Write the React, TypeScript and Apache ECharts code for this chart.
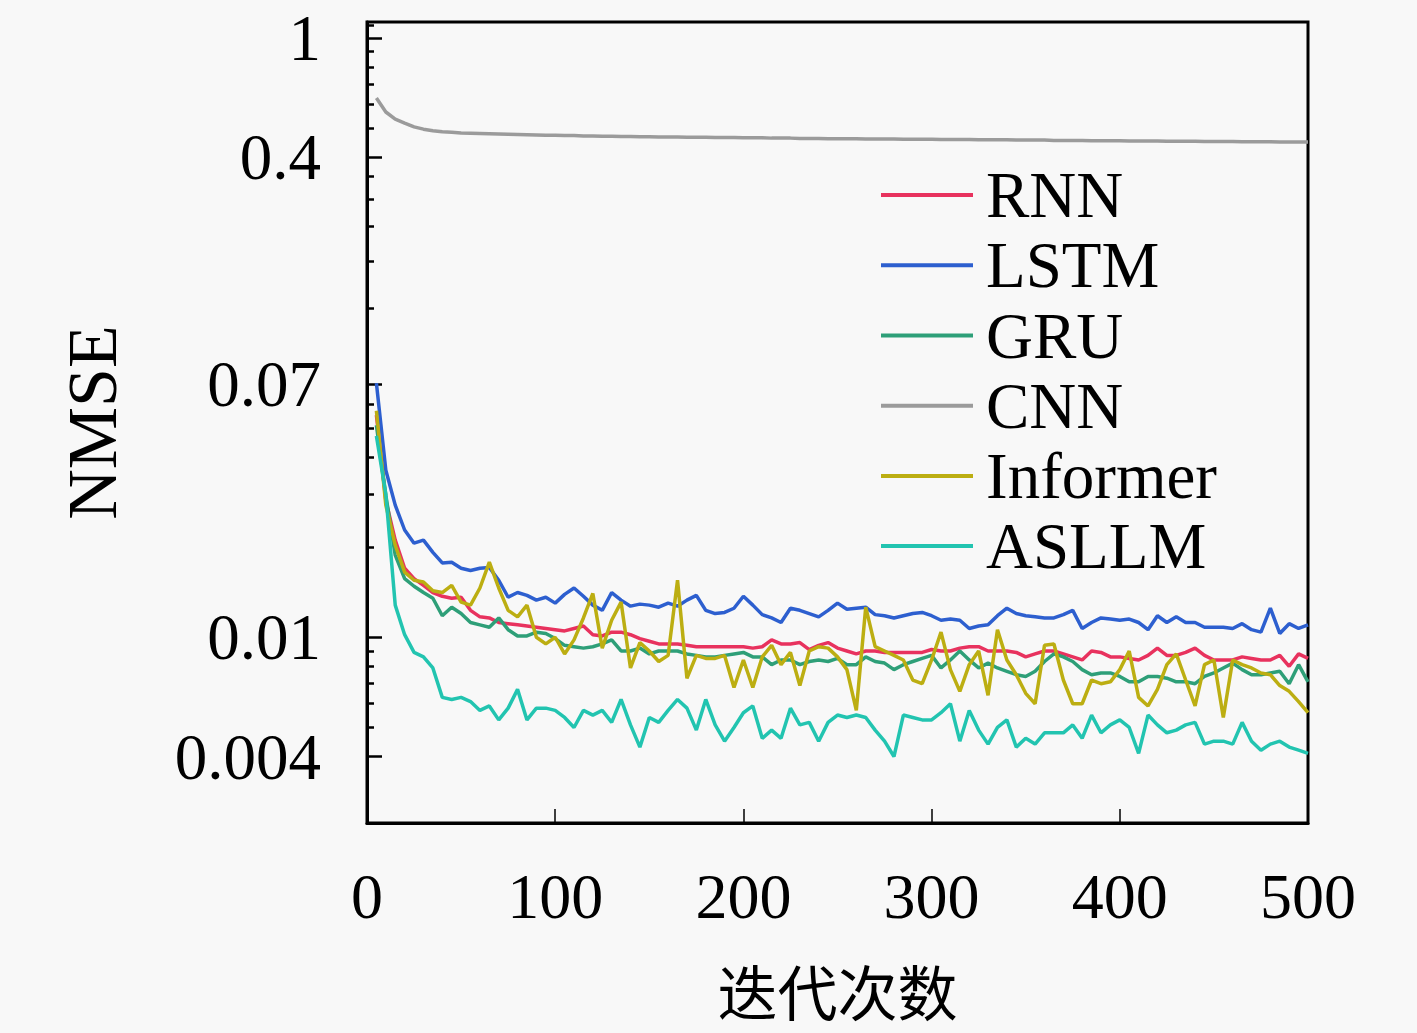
import React, { useEffect, useRef } from "react";
import * as echarts from "echarts";

const seriesNames = ["RNN", "LSTM", "GRU", "CNN", "Informer", "ASLLM"];
const seriesColors = ["#e8325e", "#2d5fcf", "#2e9f78", "#9b9b9b", "#bcae12", "#22c4b0"];

// iteration numbers: every 5 iterations from 5 to 500
const iterations = Array.from({ length: 100 }, (_, i) => 5 * (i + 1));

const rnn = [
  0.0551, 0.0286, 0.0211, 0.0170, 0.0157, 0.0149, 0.0141, 0.0137, 0.0135, 0.0136,
  0.0123, 0.0117, 0.0116, 0.0112, 0.0111, 0.0110, 0.0109, 0.0108, 0.0107, 0.0106,
  0.0105, 0.0107, 0.0109, 0.0102, 0.0101, 0.0104, 0.0104, 0.0102, 0.0099, 0.0097,
  0.0095, 0.0095, 0.0095, 0.0094, 0.0093, 0.0093, 0.0093, 0.0093, 0.0093, 0.0093,
  0.0092, 0.0093, 0.0098, 0.0095, 0.0095, 0.0096, 0.0091, 0.0094, 0.0096, 0.0092,
  0.0090, 0.0088, 0.0090, 0.0090, 0.0089, 0.0089, 0.0089, 0.0089, 0.0089, 0.0091,
  0.0090, 0.0090, 0.0092, 0.0093, 0.0093, 0.0090, 0.0090, 0.0090, 0.0089, 0.0086,
  0.0088, 0.0090, 0.0090, 0.0088, 0.0086, 0.0084, 0.0090, 0.0089, 0.0086, 0.0086,
  0.0085, 0.0084, 0.0087, 0.0092, 0.0087, 0.0087, 0.0089, 0.0092, 0.0087, 0.0084,
  0.0084, 0.0084, 0.0086, 0.0085, 0.0084, 0.0084, 0.0087, 0.0080, 0.0088, 0.0085,
];

const lstm = [
  0.0705, 0.0361, 0.0276, 0.0228, 0.0206, 0.0211, 0.0192, 0.0177, 0.0178, 0.0170,
  0.0167, 0.0170, 0.0171, 0.0155, 0.0136, 0.0141, 0.0138, 0.0133, 0.0136, 0.0130,
  0.0139, 0.0146, 0.0137, 0.0128, 0.0123, 0.0141, 0.0133, 0.0127, 0.0129, 0.0128,
  0.0126, 0.0130, 0.0127, 0.0133, 0.0138, 0.0123, 0.0120, 0.0121, 0.0125, 0.0137,
  0.0128, 0.0119, 0.0116, 0.0112, 0.0125, 0.0123, 0.0120, 0.0117, 0.0123, 0.0130,
  0.0124, 0.0125, 0.0126, 0.0119, 0.0118, 0.0116, 0.0118, 0.0120, 0.0121, 0.0118,
  0.0114, 0.0115, 0.0114, 0.0107, 0.0109, 0.0110, 0.0118, 0.0125, 0.0120, 0.0118,
  0.0117, 0.0116, 0.0116, 0.0119, 0.0123, 0.0107, 0.0112, 0.0116, 0.0115, 0.0114,
  0.0115, 0.0112, 0.0106, 0.0118, 0.0112, 0.0117, 0.0112, 0.0112, 0.0108, 0.0108,
  0.0108, 0.0107, 0.0111, 0.0106, 0.0104, 0.0125, 0.0103, 0.0111, 0.0107, 0.0110,
];

const gru = [
  0.0510, 0.0298, 0.0188, 0.0157, 0.0148, 0.0141, 0.0135, 0.0118, 0.0126, 0.0120,
  0.0112, 0.0110, 0.0108, 0.0116, 0.0106, 0.0101, 0.0101, 0.0104, 0.0103, 0.0099,
  0.0094, 0.0093, 0.0092, 0.0093, 0.0095, 0.0098, 0.0090, 0.0090, 0.0092, 0.0088,
  0.0090, 0.0090, 0.0090, 0.0088, 0.0087, 0.0086, 0.0086, 0.0087, 0.0088, 0.0089,
  0.0086, 0.0086, 0.0081, 0.0084, 0.0084, 0.0081, 0.0083, 0.0084, 0.0083, 0.0085,
  0.0081, 0.0081, 0.0086, 0.0083, 0.0082, 0.0078, 0.0081, 0.0083, 0.0085, 0.0087,
  0.0079, 0.0084, 0.0090, 0.0084, 0.0079, 0.0082, 0.0079, 0.0077, 0.0075, 0.0074,
  0.0077, 0.0083, 0.0088, 0.0086, 0.0083, 0.0078, 0.0075, 0.0076, 0.0076, 0.0074,
  0.0071, 0.0071, 0.0074, 0.0074, 0.0073, 0.0071, 0.0071, 0.0070, 0.0074, 0.0076,
  0.0079, 0.0082, 0.0078, 0.0075, 0.0075, 0.0076, 0.0077, 0.0070, 0.0081, 0.0071,
];

const cnn = [
  0.630, 0.566, 0.536, 0.520, 0.505, 0.496, 0.490, 0.486, 0.484, 0.482,
  0.481, 0.480, 0.479, 0.478, 0.477, 0.476, 0.475, 0.474, 0.473, 0.473,
  0.472, 0.472, 0.471, 0.471, 0.470, 0.470, 0.469, 0.469, 0.468, 0.468,
  0.467, 0.467, 0.467, 0.466, 0.466, 0.466, 0.465, 0.465, 0.465, 0.464,
  0.464, 0.464, 0.463, 0.463, 0.463, 0.462, 0.462, 0.462, 0.461, 0.461,
  0.461, 0.461, 0.460, 0.460, 0.460, 0.460, 0.459, 0.459, 0.459, 0.459,
  0.458, 0.458, 0.458, 0.458, 0.457, 0.457, 0.457, 0.457, 0.456, 0.456,
  0.456, 0.456, 0.455, 0.455, 0.455, 0.455, 0.454, 0.454, 0.454, 0.454,
  0.453, 0.453, 0.453, 0.453, 0.452, 0.452, 0.452, 0.452, 0.451, 0.451,
  0.451, 0.451, 0.450, 0.450, 0.450, 0.450, 0.449, 0.449, 0.449, 0.449,
];

const informer = [
  0.0570, 0.0276, 0.0203, 0.0165, 0.0155, 0.0153, 0.0143, 0.0141, 0.0149, 0.0131,
  0.0128, 0.0146, 0.0178, 0.0146, 0.0123, 0.0117, 0.0128, 0.0100, 0.0095, 0.0100,
  0.0088, 0.0098, 0.0116, 0.0140, 0.0092, 0.0114, 0.0131, 0.0079, 0.0096, 0.0090,
  0.0083, 0.0087, 0.0155, 0.0073, 0.0087, 0.0085, 0.0085, 0.0087, 0.0068, 0.0084,
  0.0068, 0.0086, 0.0094, 0.0081, 0.0089, 0.0069, 0.0090, 0.0093, 0.0092, 0.0086,
  0.0078, 0.0057, 0.0126, 0.0093, 0.0090, 0.0087, 0.0084, 0.0072, 0.0070, 0.0084,
  0.0104, 0.0078, 0.0066, 0.0081, 0.0090, 0.0064, 0.0106, 0.0084, 0.0075, 0.0065,
  0.0060, 0.0094, 0.0095, 0.0072, 0.0060, 0.0060, 0.0072, 0.0070, 0.0071, 0.0078,
  0.0090, 0.0063, 0.0059, 0.0067, 0.0081, 0.0088, 0.0072, 0.0059, 0.0081, 0.0084,
  0.0054, 0.0084, 0.0081, 0.0079, 0.0076, 0.0075, 0.0069, 0.0066, 0.0061, 0.0056,
];

const asllm = [
  0.0470, 0.0300, 0.0128, 0.0102, 0.0089, 0.0086, 0.0079, 0.0063, 0.0062, 0.0063,
  0.0061, 0.0057, 0.0059, 0.0053, 0.0058, 0.0067, 0.0053, 0.0058, 0.0058, 0.0057,
  0.0054, 0.0050, 0.0057, 0.0055, 0.0057, 0.0052, 0.0062, 0.0051, 0.0043, 0.0054,
  0.0052, 0.0057, 0.0062, 0.0058, 0.0049, 0.0062, 0.0051, 0.0045, 0.0050, 0.0056,
  0.0059, 0.0046, 0.0049, 0.0046, 0.0058, 0.0051, 0.0052, 0.0045, 0.0052, 0.0055,
  0.0054, 0.0055, 0.0054, 0.0049, 0.0045, 0.0040, 0.0055, 0.0054, 0.0053, 0.0053,
  0.0056, 0.0060, 0.0045, 0.0057, 0.0049, 0.0044, 0.0050, 0.0053, 0.0043, 0.0046,
  0.0044, 0.0048, 0.0048, 0.0048, 0.0051, 0.0046, 0.0055, 0.0048, 0.0051, 0.0053,
  0.0050, 0.0041, 0.0055, 0.0051, 0.0048, 0.0049, 0.0051, 0.0052, 0.0044, 0.0045,
  0.0045, 0.0044, 0.0052, 0.0045, 0.0042, 0.0044, 0.0045, 0.0043, 0.0042, 0.0041,
];

const allSeries = [rnn, lstm, gru, cnn, informer, asllm];

const yMajorTicks = [1, 0.4, 0.07, 0.01, 0.004];
const yMinorTicks = [
  1.1, 0.9, 0.8, 0.7, 0.6, 0.5,
  0.345, 0.29, 0.235, 0.18, 0.125,
  0.06, 0.05, 0.04, 0.03, 0.02,
  0.009, 0.008, 0.007, 0.006, 0.005,
];
const yMin = 0.0024;
const yMax = 1.13;

const FONT = "'Liberation Serif', 'Noto Sans CJK SC', serif";

export default function App() {
  const ref = useRef<HTMLDivElement>(null);

  useEffect(() => {
    document.body.style.margin = "0";
    document.body.style.background = "#f8f8f8";
    if (!ref.current) return;
    const chart = echarts.init(ref.current, undefined, { renderer: "svg" });
    const fmt = (v: number) => String(parseFloat(Number(v).toPrecision(6)));
    chart.setOption({
      animation: false,
      backgroundColor: "#f8f8f8",
      grid: {
        left: 367,
        right: 109,
        top: 22,
        bottom: 210,
        show: true,
        borderColor: "#000",
        borderWidth: 3,
        backgroundColor: "transparent",
        containLabel: false,
        outerBoundsMode: "none",
      },
      legend: {
        orient: "vertical",
        left: 876,
        top: 155,
        itemWidth: 92,
        itemHeight: 4,
        itemGap: 0,
        icon: "rect",
        data: seriesNames,
        textStyle: {
          fontSize: 65,
          fontFamily: FONT,
          color: "#000",
          lineHeight: 70.2,
          padding: [0, 0, 0, 8],
        },
      },
      xAxis: {
        type: "value",
        min: 0,
        max: 500,
        interval: 100,
        name: "迭代次数",
        nameLocation: "middle",
        nameGap: 143,
        nameTextStyle: { fontSize: 60, color: "#000", fontFamily: FONT },
        axisLine: { lineStyle: { color: "#000", width: 3 } },
        axisTick: { inside: true, length: 14, lineStyle: { color: "#000", width: 1.5 } },
        axisLabel: { fontSize: 64, color: "#000", margin: 41, fontFamily: FONT },
        splitLine: { show: false },
      },
      yAxis: [
        {
          type: "log",
          logBase: 10,
          min: yMin,
          max: yMax,
          name: "NMSE",
          nameLocation: "middle",
          nameGap: 240,
          nameTextStyle: { fontSize: 70, color: "#000", fontFamily: FONT },
          axisLine: { lineStyle: { color: "#000", width: 3 } },
          axisTick: {
            inside: true,
            length: 15,
            customValues: yMajorTicks,
            lineStyle: { color: "#000", width: 2.5 },
          },
          axisLabel: {
            customValues: yMajorTicks,
            fontSize: 65,
            color: "#000",
            margin: 46,
            fontFamily: FONT,
            formatter: fmt,
          },
          splitLine: { show: false },
          minorTick: { show: false },
        },
        {
          type: "log",
          logBase: 10,
          min: yMin,
          max: yMax,
          position: "left",
          axisLine: { show: false },
          axisTick: {
            inside: true,
            length: 7,
            customValues: yMinorTicks,
            lineStyle: { color: "#000", width: 2.5 },
          },
          axisLabel: { show: false },
          splitLine: { show: false },
        },
      ],
      series: seriesNames.map((name, si) => ({
        name,
        type: "line",
        yAxisIndex: 0,
        symbol: "none",
        color: seriesColors[si],
        lineStyle: { width: 3.5, color: seriesColors[si] },
        data: iterations.map((x, i) => [x, allSeries[si][i]]),
      })),
    });
    return () => chart.dispose();
  }, []);

  return <div ref={ref} style={{ width: 1417, height: 1033 }} />;
}
